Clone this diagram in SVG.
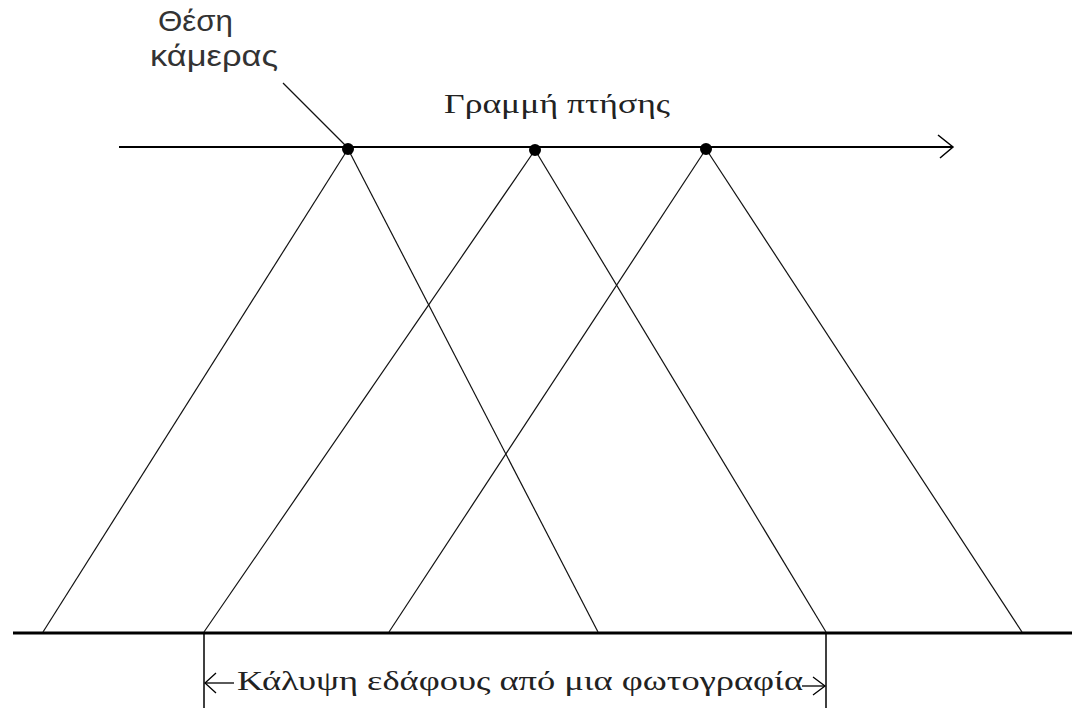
<svg xmlns="http://www.w3.org/2000/svg" width="1072" height="708" viewBox="0 0 1072 708">
<style>
.ray{stroke:#111;stroke-width:1.2;fill:none}
.ln{stroke:#000;fill:none}
.serif{font-family:"Liberation Serif","Times New Roman",serif;fill:#222}
.sans{font-family:"Liberation Sans","DejaVu Sans",sans-serif;fill:#333}
.cam{fill:#000}
</style>
<rect width="1072" height="708" fill="#fff"/>
<g id="connectors">
<line class="ln" x1="119" y1="147" x2="953" y2="147" stroke-width="2"/>
<polyline class="ln" points="938,135 953,147 940,158" stroke-width="1.5"/>
<line class="ln" x1="13" y1="633" x2="1072" y2="633" stroke-width="3"/>
<line class="ray" x1="348" y1="149" x2="43" y2="632"/>
<line class="ray" x1="348" y1="149" x2="598" y2="632"/>
<line class="ray" x1="535" y1="150" x2="204" y2="632"/>
<line class="ray" x1="535" y1="150" x2="826" y2="632"/>
<line class="ray" x1="706" y1="149" x2="389" y2="632"/>
<line class="ray" x1="706" y1="149" x2="1022" y2="632"/>
<line class="ray" x1="283" y1="83" x2="347" y2="147"/>
<line class="ln" x1="204" y1="633" x2="204" y2="708" stroke-width="1.5"/>
<line class="ln" x1="826" y1="633" x2="826" y2="708" stroke-width="1.5"/>
<line class="ln" x1="205" y1="683" x2="234" y2="683" stroke-width="1.3"/>
<polyline class="ln" points="216,673 205,683 216,693" stroke-width="1.3"/>
<line class="ln" x1="802" y1="686" x2="825" y2="686" stroke-width="1.3"/>
<polyline class="ln" points="813,677 825,686 813,695" stroke-width="1.3"/>
</g>
<g id="cam1"><circle class="cam" cx="348" cy="149" r="6"/></g>
<g id="cam2"><circle class="cam" cx="535" cy="150" r="6"/></g>
<g id="cam3"><circle class="cam" cx="706" cy="149" r="6"/></g>
<g id="label-camera">
<text class="sans" x="158" y="31" font-size="29" textLength="75" lengthAdjust="spacingAndGlyphs">Θέση</text>
<text class="sans" x="150" y="66" font-size="29" textLength="128" lengthAdjust="spacingAndGlyphs">κάμερας</text>
</g>
<g id="label-flight">
<text class="serif" x="444" y="113" font-size="27" textLength="226" lengthAdjust="spacingAndGlyphs">Γραμμή πτήσης</text>
</g>
<g id="label-coverage">
<text class="serif" x="237" y="690" font-size="28" textLength="566" lengthAdjust="spacingAndGlyphs">Κάλυψη εδάφους από μια φωτογραφία</text>
</g>
</svg>
